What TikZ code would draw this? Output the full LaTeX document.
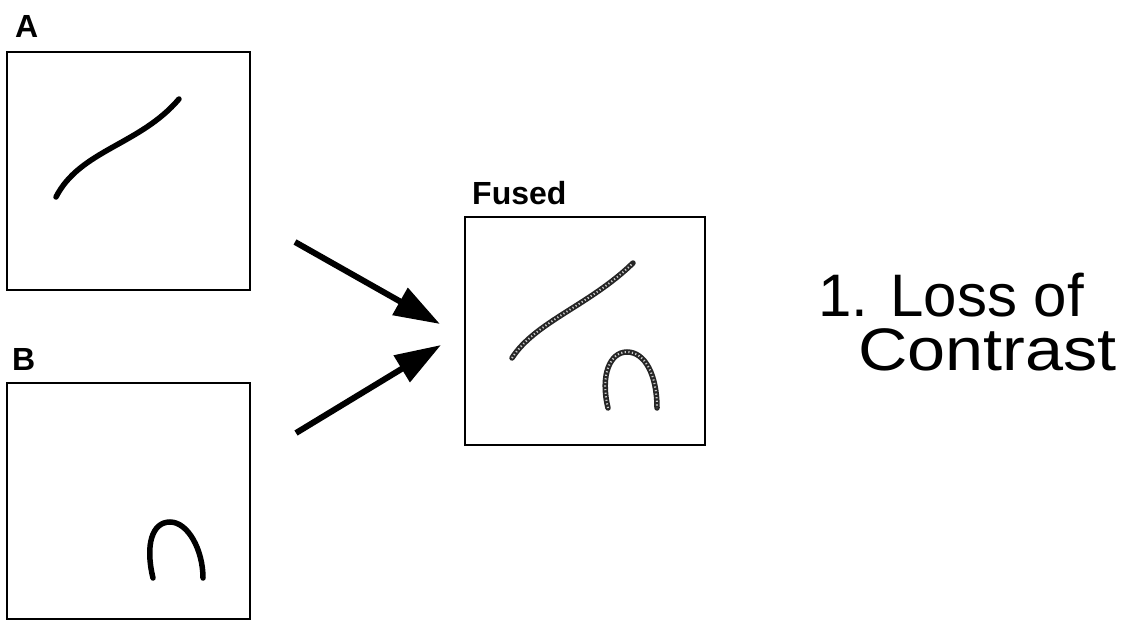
\documentclass[tikz,border=0pt]{standalone}
\usepackage{fontspec}
\setmainfont{Liberation Sans}
\usetikzlibrary{arrows.meta}
\begin{document}
\begin{tikzpicture}[x=1pt,y=-1pt,
  panel/.style={draw=black,line width=2.4pt,minimum width=#1,inner sep=0pt,outer sep=0pt},
  lbl/.style={anchor=base west,inner sep=0pt,font=\fontsize{32}{36}\selectfont\bfseries},
  big/.style={anchor=base west,inner sep=0pt,font=\fontsize{60}{70}\selectfont},
  stroke/.style={line width=5.5pt,line cap=round,black},
  fusedbase/.style={line width=5.5pt,line cap=round,black!85},
  fuseddots/.style={line width=2pt,white!80!black,dash pattern=on 1.2pt off 2.4pt},
  fusearrow/.style={line width=6pt,-{Triangle[length=46pt,width=30pt]}}]
\useasboundingbox (0,0) rectangle (1137,624);
% panels
\node[panel=243pt,minimum height=238pt] (pa) at (128.5,171) {};
\node[panel=243pt,minimum height=236pt] (pb) at (128.5,501) {};
\node[panel=240pt,minimum height=228pt] (pf) at (585,331) {};
% labels
\node[lbl] (la) at (15,37) {A};
\node[lbl] (lb) at (12,370) {B};
\node[lbl] (lf) at (472,204) {Fused};
% panel A stroke
\draw[stroke] (56,197) .. controls (80,150) and (140,145) .. (179,99);
% panel B arch
\draw[stroke] (153,578) .. controls (145,545) and (152,522) .. (170,522) .. controls (188,522) and (203,550) .. (203,578);
% fused strokes
\draw[fusedbase] (512,358) .. controls (535,322) and (590,305) .. (633,263);
\draw[fuseddots] (512,358) .. controls (535,322) and (590,305) .. (633,263);
\draw[fusedbase] (608,408) .. controls (600,375) and (610,352) .. (627,352) .. controls (645,352) and (657,375) .. (657,408);
\draw[fuseddots] (608,408) .. controls (600,375) and (610,352) .. (627,352) .. controls (645,352) and (657,375) .. (657,408);
% arrows
\coordinate (a1) at (295,242);
\coordinate (f1) at (440,324);
\coordinate (b1) at (296,433);
\coordinate (f2) at (441,345);
\draw[fusearrow] (a1) -- (f1);
\draw[fusearrow] (b1) -- (f2);
% caption
\node[big] (t1) at (818,316) {1. Loss of};
\node[big,xscale=1.14] (t2) at (858,370) {Contrast};
\end{tikzpicture}
\end{document}
